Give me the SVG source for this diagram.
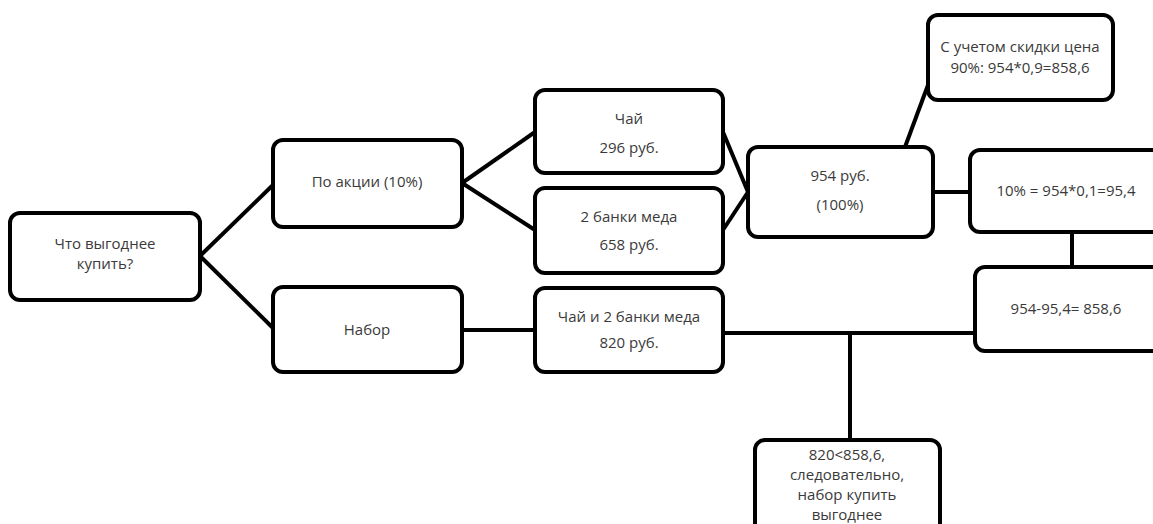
<svg xmlns="http://www.w3.org/2000/svg" width="1153" height="524" viewBox="0 0 1153 524">
<style>
.n{fill:#fff;stroke:#000;stroke-width:4}
.t{font-family:"Open Sans","Liberation Sans",sans-serif;font-size:15px;fill:#3a3a3a;text-anchor:middle}
.c{stroke:#000;stroke-width:4;fill:none}
</style>
<rect width="1153" height="524" fill="#fff"/>
<g id="connectors">
<line class="c" x1="200" y1="256" x2="275" y2="183"/>
<line class="c" x1="200" y1="256" x2="275" y2="330"/>
<line class="c" x1="462" y1="183" x2="535" y2="132"/>
<line class="c" x1="462" y1="183" x2="535" y2="230"/>
<line class="c" x1="723" y1="132" x2="748" y2="192"/>
<line class="c" x1="723" y1="230" x2="748" y2="192"/>
<line class="c" x1="905" y1="147" x2="928" y2="85"/>
<line class="c" x1="933" y1="192" x2="970" y2="192"/>
<line class="c" x1="1072" y1="232" x2="1072" y2="267"/>
<line class="c" x1="462" y1="330" x2="535" y2="330"/>
<line class="c" x1="723" y1="333" x2="975" y2="333"/>
<line class="c" x1="850" y1="333" x2="850" y2="440"/>
</g>
<g id="n1"><rect class="n" x="10" y="213" width="190" height="87" rx="10"/><text class="t" x="105" y="249">Что выгоднее</text><text class="t" x="105" y="269">купить?</text></g>
<g id="n2"><rect class="n" x="273" y="140" width="189" height="87" rx="10"/><text class="t" x="367" y="187">По акции (10%)</text></g>
<g id="n3"><rect class="n" x="535" y="90" width="188" height="83" rx="10"/><text class="t" x="629" y="124">Чай</text><text class="t" x="629" y="153">296 руб.</text></g>
<g id="n4"><rect class="n" x="535" y="188" width="188" height="85" rx="10"/><text class="t" x="629" y="222">2 банки меда</text><text class="t" x="629" y="250">658 руб.</text></g>
<g id="n5"><rect class="n" x="273" y="287" width="189" height="85" rx="10"/><text class="t" x="367" y="335">Набор</text></g>
<g id="n6"><rect class="n" x="535" y="288" width="188" height="84" rx="10"/><text class="t" x="629" y="322">Чай и 2 банки меда</text><text class="t" x="629" y="348">820 руб.</text></g>
<g id="n7"><rect class="n" x="748" y="147" width="185" height="90" rx="10"/><text class="t" x="840" y="181">954 руб.</text><text class="t" x="840" y="210">(100%)</text></g>
<g id="n8"><rect class="n" x="928" y="15" width="185" height="85" rx="10"/><text class="t" x="1020" y="52">С учетом скидки цена</text><text class="t" x="1020" y="73">90%: 954*0,9=858,6</text></g>
<g id="n9"><rect class="n" x="970" y="150" width="200" height="82" rx="10"/><text class="t" x="1066" y="196">10% = 954*0,1=95,4</text></g>
<g id="n10"><rect class="n" x="975" y="267" width="195" height="84" rx="10"/><text class="t" x="1066" y="314">954-95,4= 858,6</text></g>
<g id="n11"><rect class="n" x="755" y="440" width="185" height="100" rx="10"/><text class="t" x="847" y="460">820&lt;858,6,</text><text class="t" x="847" y="480">следовательно,</text><text class="t" x="847" y="500">набор купить</text><text class="t" x="847" y="520">выгоднее</text></g>
</svg>
